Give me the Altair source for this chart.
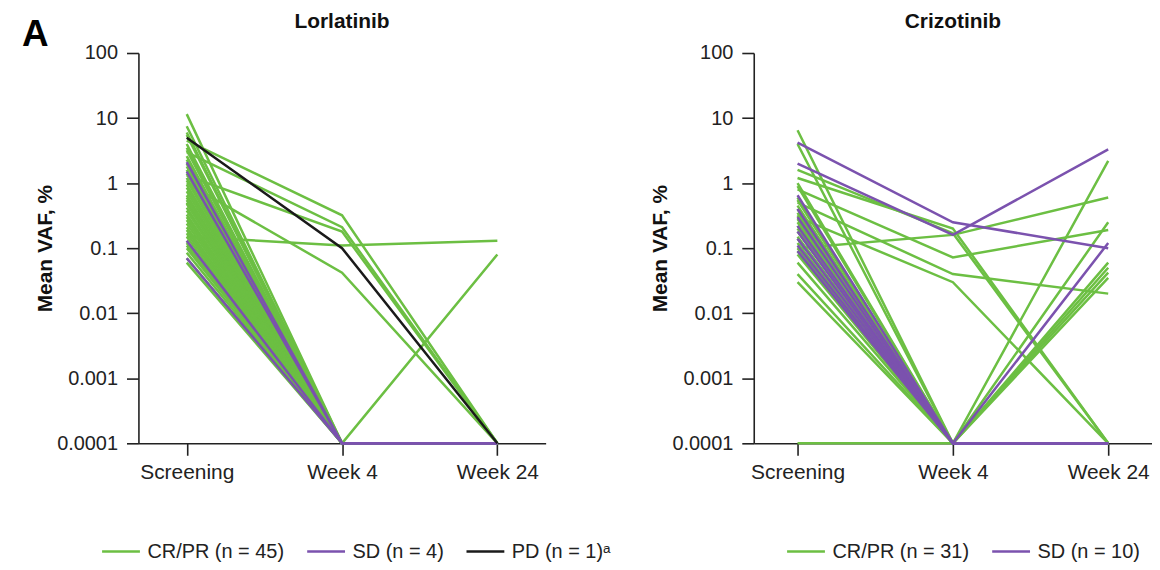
import altair as alt
import pandas as pd

TIMES = ["Screening", "Week 4", "Week 24"]
Y_TICKS = [0.0001, 0.001, 0.01, 0.1, 1, 10, 100]
PANEL_LABEL = ["A"]
PANEL_TITLES = ["Lorlatinib", "Crizotinib"]

GREEN = "#6cbf43"
PURPLE = "#7b52ae"
BLACK = "#1a1a1a"

# ---------------- Lorlatinib ----------------
lor_labels = ["CR/PR (n = 45)", "SD (n = 4)", "PD (n = 1)\u1d43"]

lor_crpr_scr = [4.5, 3.0, 1.3, 0.15, 1.0, 0.5, 11.5, 7.5, 6.0, 5.5, 4.0, 3.5, 3.2, 2.6, 2.3,
                2.0, 1.8, 1.6, 1.4, 1.2, 1.1, 0.95, 0.85, 0.75, 0.65, 0.6, 0.55, 0.48, 0.42,
                0.38, 0.33, 0.3, 0.27, 0.24, 0.21, 0.19, 0.17, 0.15, 0.13, 0.12, 0.11, 0.1,
                0.085, 0.07, 0.06]
lor_crpr_w4 = [0.32, 0.21, 0.18, 0.11, 0.042, 0.0001, 0.0001, 0.0001, 0.0001, 0.0001, 0.0001,
               0.0001, 0.0001, 0.0001, 0.0001, 0.0001, 0.0001, 0.0001, 0.0001, 0.0001, 0.0001,
               0.0001, 0.0001, 0.0001, 0.0001, 0.0001, 0.0001, 0.0001, 0.0001, 0.0001, 0.0001,
               0.0001, 0.0001, 0.0001, 0.0001, 0.0001, 0.0001, 0.0001, 0.0001, 0.0001, 0.0001,
               0.0001, 0.0001, 0.0001, 0.0001]
lor_crpr_w24 = [0.0001, 0.0001, 0.0001, 0.13, 0.0001, 0.08, 0.0001, 0.0001, 0.0001, 0.0001,
                0.0001, 0.0001, 0.0001, 0.0001, 0.0001, 0.0001, 0.0001, 0.0001, 0.0001, 0.0001,
                0.0001, 0.0001, 0.0001, 0.0001, 0.0001, 0.0001, 0.0001, 0.0001, 0.0001, 0.0001,
                0.0001, 0.0001, 0.0001, 0.0001, 0.0001, 0.0001, 0.0001, 0.0001, 0.0001, 0.0001,
                0.0001, 0.0001, 0.0001, 0.0001, 0.0001]

lor_sd_scr = [2.1, 1.5, 0.13, 0.07]
lor_sd_w4 = [0.0001, 0.0001, 0.0001, 0.0001]
lor_sd_w24 = [0.0001, 0.0001, 0.0001, 0.0001]

lor_pd_scr = [5.0]
lor_pd_w4 = [0.1]
lor_pd_w24 = [0.0001]

# ---------------- Crizotinib ----------------
cri_labels = ["CR/PR (n = 31)", "SD (n = 10)"]

cri_crpr_scr = [6.5, 4.0, 1.2, 1.6, 0.8, 0.1, 0.5, 0.3, 0.0001, 0.45, 0.35, 0.25, 0.2, 0.15,
                1.0, 0.9, 0.6, 0.55, 0.4, 0.32, 0.28, 0.22, 0.18, 0.14, 0.12, 0.1, 0.09, 0.08,
                0.06, 0.04, 0.03]
cri_crpr_w4 = [0.0001, 0.0001, 0.2, 0.17, 0.072, 0.16, 0.04, 0.03, 0.0001, 0.0001, 0.0001,
               0.0001, 0.0001, 0.0001, 0.0001, 0.0001, 0.0001, 0.0001, 0.0001, 0.0001, 0.0001,
               0.0001, 0.0001, 0.0001, 0.0001, 0.0001, 0.0001, 0.0001, 0.0001, 0.0001, 0.0001]
cri_crpr_w24 = [0.0001, 0.0001, 0.0001, 0.0001, 0.19, 0.6, 0.02, 0.0001, 2.2, 0.25, 0.06, 0.05,
                0.042, 0.035, 0.0001, 0.0001, 0.0001, 0.0001, 0.0001, 0.0001, 0.0001, 0.0001,
                0.0001, 0.0001, 0.0001, 0.0001, 0.0001, 0.0001, 0.0001, 0.0001, 0.0001]

cri_sd_scr = [4.2, 2.0, 0.3, 0.65, 0.4, 0.22, 0.18, 0.14, 0.11, 0.09]
cri_sd_w4 = [0.25, 0.16, 0.0001, 0.0001, 0.0001, 0.0001, 0.0001, 0.0001, 0.0001, 0.0001]
cri_sd_w24 = [0.1, 3.3, 0.12, 0.0001, 0.0001, 0.0001, 0.0001, 0.0001, 0.0001, 0.0001]


def build(groups):
    rows = []
    pid = 0
    for label, scr, w4, w24 in groups:
        for a, b, c in zip(scr, w4, w24):
            for t, (name, v) in enumerate(zip(TIMES, (a, b, c))):
                rows.append({"pid": pid, "group": label, "time": name, "t": t, "vaf": v})
            pid += 1
    return pd.DataFrame(rows)


lor_df = build([
    (lor_labels[0], lor_crpr_scr, lor_crpr_w4, lor_crpr_w24),
    (lor_labels[1], lor_sd_scr, lor_sd_w4, lor_sd_w24),
    (lor_labels[2], lor_pd_scr, lor_pd_w4, lor_pd_w24),
])
cri_df = build([
    (cri_labels[0], cri_crpr_scr, cri_crpr_w4, cri_crpr_w24),
    (cri_labels[1], cri_sd_scr, cri_sd_w4, cri_sd_w24),
])

FONT = "Liberation Sans"
AX = "#222222"


def panel(df, labels, colors, title, width, pad, legend_x, with_letter=False):
    xaxis = alt.Axis(title=None, labelAngle=0, labelFontSize=21, labelFont=FONT,
                     labelColor=AX, domainColor=AX, domainWidth=1.6, tickColor=AX,
                     tickWidth=1.6, tickSize=12, labelPadding=6, grid=False)
    yaxis = alt.Axis(title="Mean VAF, %", values=Y_TICKS, format="~g", titleFontSize=21,
                     titleFont=FONT, titleFontWeight="bold", titleColor="#111111",
                     titlePadding=1, labelFontSize=20, labelFont=FONT, labelColor=AX,
                     domainColor=AX, domainWidth=1.6, tickColor=AX, tickWidth=1.6,
                     tickSize=12, labelPadding=9, grid=False)
    legend = alt.Legend(title=None, orient="none", legendX=legend_x, legendY=480,
                        direction="horizontal", symbolType="stroke", symbolStrokeWidth=2.5,
                        symbolSize=1444, labelFontSize=20, labelFont=FONT, labelColor=AX,
                        columnPadding=17, labelOffset=6, padding=0)
    layers = []
    for i, lab in enumerate(labels):
        layers.append(
            alt.Chart(df).transform_filter(alt.datum.group == lab)
            .mark_line(strokeWidth=2.5, interpolate="linear")
            .encode(
                x=alt.X("time:N", sort=TIMES, scale=alt.Scale(type="point", padding=pad),
                        axis=xaxis),
                y=alt.Y("vaf:Q", scale=alt.Scale(type="log", domain=[0.0001, 100], nice=False),
                        axis=yaxis),
                color=alt.Color("group:N", scale=alt.Scale(domain=labels, range=colors),
                                legend=legend if i == 0 else None),
                detail="pid:N",
                order="t:Q",
            )
        )
    layers.append(
        alt.Chart(pd.DataFrame({"label": [title]}))
        .mark_text(fontSize=21, fontWeight="bold", font=FONT, align="center",
                   baseline="alphabetic", color="#111111")
        .encode(text="label:N", x=alt.value(width / 2), y=alt.value(-25))
    )
    if with_letter:
        layers.append(
            alt.Chart(pd.DataFrame({"label": PANEL_LABEL}))
            .mark_text(fontSize=37, fontWeight="bold", font=FONT, align="left",
                       baseline="alphabetic", color="#000000")
            .encode(text="label:N", x=alt.value(-117), y=alt.value(-7))
        )
    return alt.layer(*layers).properties(width=width, height=392)


left = panel(lor_df, lor_labels, [GREEN, PURPLE, BLACK], PANEL_TITLES[0], 409, 0.311, -38,
             with_letter=True)
right = panel(cri_df, cri_labels, [GREEN, PURPLE], PANEL_TITLES[1], 400, 0.282, 32)

chart = (
    alt.hconcat(left, right, spacing=209, bounds="flush")
    .resolve_scale(color="independent")
    .properties(padding={"left": 14, "top": 2, "right": 0, "bottom": 0})
    .configure(font=FONT)
    .configure_view(stroke=None)
)

chart.save("out.html", embed_options={"renderer": "svg", "actions": False})
